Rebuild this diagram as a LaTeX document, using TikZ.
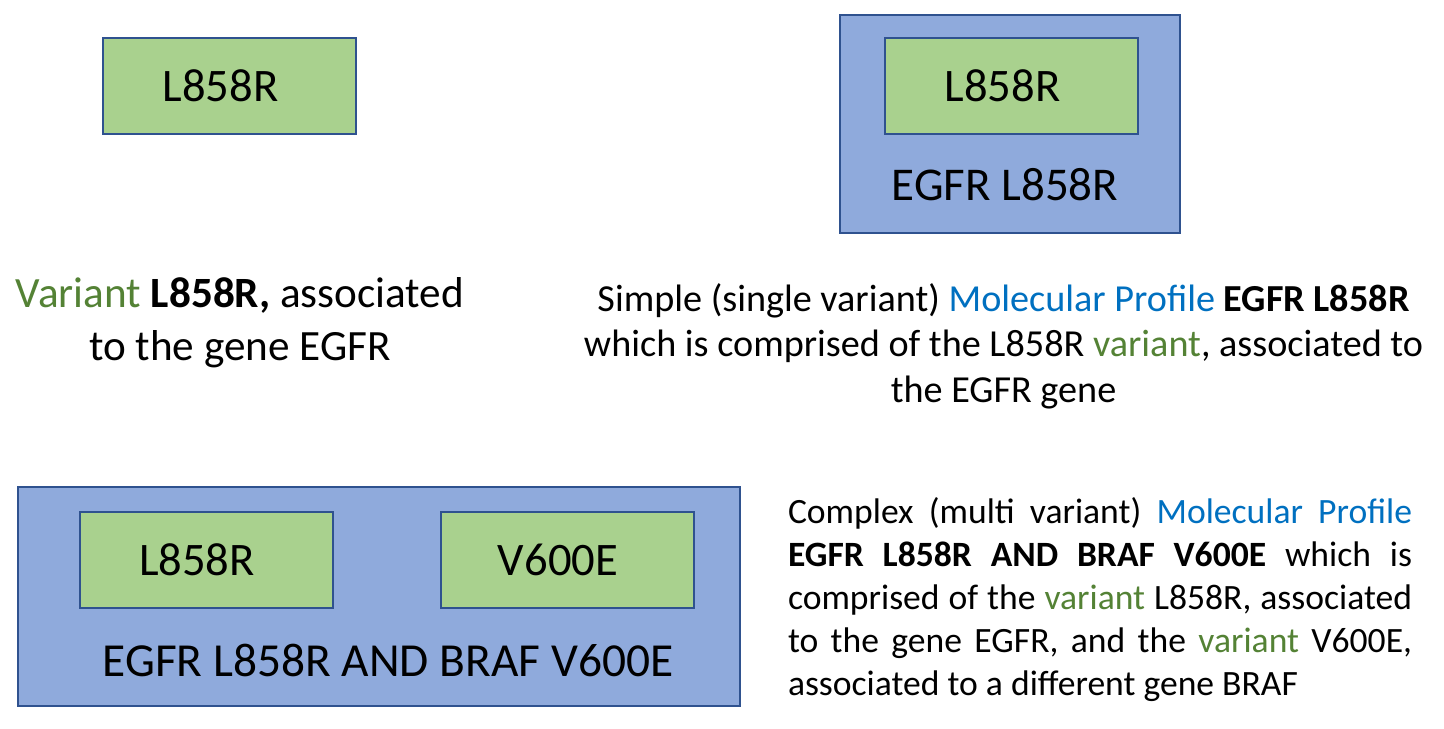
\documentclass[tikz,border=0pt]{standalone}
\usepackage{fontspec}
\setmainfont{Carlito}
\definecolor{varfill}{HTML}{A9D18E}
\definecolor{proffill}{HTML}{8FAADC}
\definecolor{boxline}{HTML}{2F528F}
\definecolor{vargreen}{HTML}{548235}
\definecolor{profblue}{HTML}{0070C0}
\hyphenpenalty=10000
\exhyphenpenalty=10000
\tolerance=9999
\begin{document}
\begin{tikzpicture}[x=0.5pt,y=-0.5pt,
        varbox/.style={draw=boxline,line width=1pt,fill=varfill,minimum width=126.5pt,minimum height=48pt,inner sep=0pt,
            font=\fontsize{23.3}{28}\selectfont,execute at end node={\hspace*{9pt}}},
        profbox/.style={draw=boxline,line width=1pt,fill=proffill,inner sep=0pt}]
        \useasboundingbox (0,0) rectangle (1444,728);

        % single variant
        \node[varbox] (varA) at (229.5,86) {L858R};
        \node[align=center,font=\fontsize{21.6}{26.5}\selectfont] (textA) at (240,323)
            {\textcolor{vargreen}{Variant} \textbf{L858R,} associated\\to the gene EGFR};

        % simple profile
        \node[profbox,minimum width=170pt,minimum height=109pt] (profB) at (1010,124) {};
        \node[varbox] (varB) at (1011.5,86) {L858R};
        \node[font=\fontsize{23.5}{28}\selectfont] (labB) at (1005,185) {EGFR L858R};
        \node[align=center,font=\fontsize{19.1}{22.75}\selectfont] (textB) at (1003.5,346)
            {Simple (single variant) \textcolor{profblue}{Molecular Profile} \textbf{EGFR L858R}\\
             which is comprised of the L858R \textcolor{vargreen}{variant}, associated to\\
             the EGFR gene};

        % complex profile
        \node[profbox,minimum width=361pt,minimum height=109.5pt] (profC) at (379,596.5) {};
        \node[varbox] (varC1) at (206,560) {L858R};
        \node[varbox] (varC2) at (567,560) {V600E};
        \node[font=\fontsize{23.7}{28}\selectfont] (labC) at (388,660) {EGFR L858R AND BRAF V600E};
        \node[text width=312pt,align=justify,inner sep=0pt,font=\fontsize{17.8}{21.5}\selectfont] (textC) at (1100,600)
            {Complex (multi variant) \textcolor{profblue}{Molecular Profile} \textbf{EGFR L858R AND BRAF V600E} which is comprised of the \textcolor{vargreen}{variant} L858R, associated to the gene EGFR, and the \textcolor{vargreen}{variant} V600E, associated to a different gene BRAF};
\end{tikzpicture}
\end{document}
